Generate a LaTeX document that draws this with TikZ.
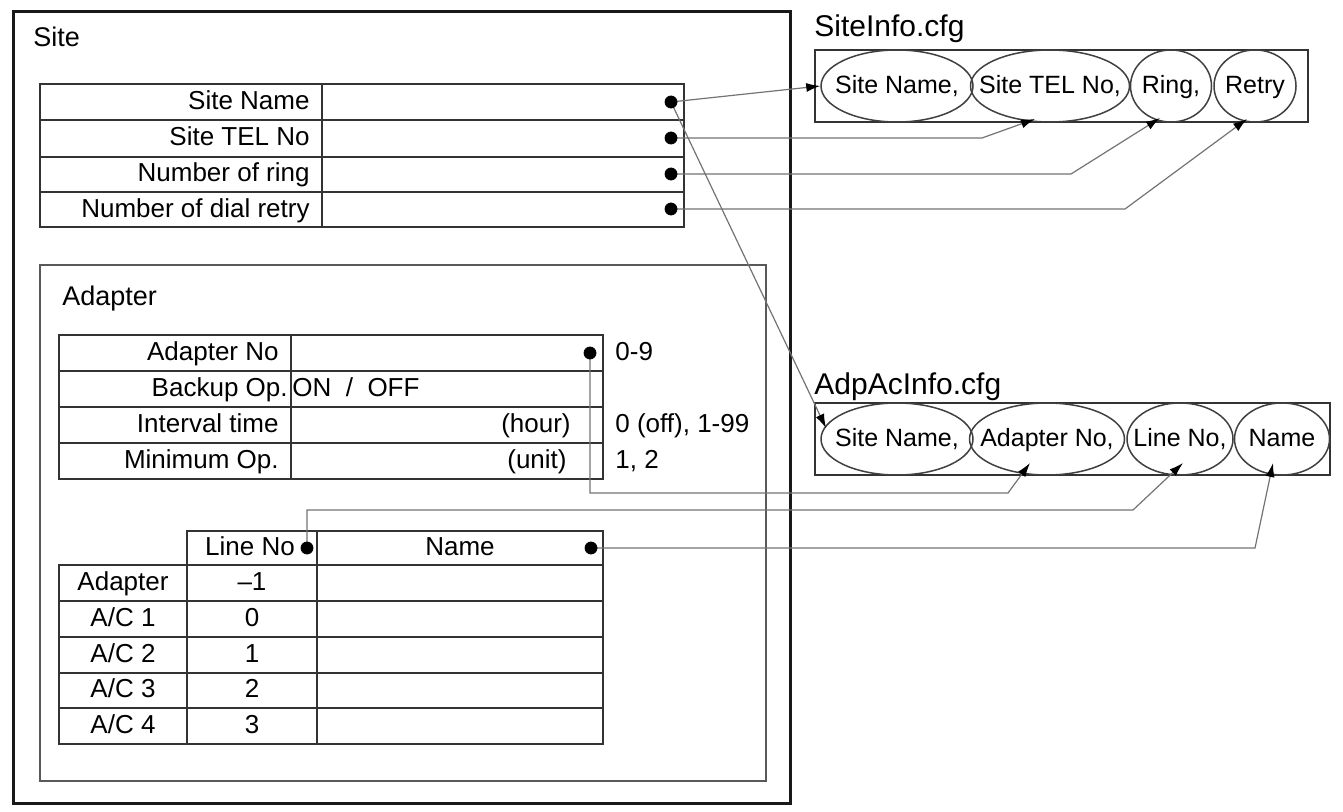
\documentclass[tikz,border=0pt]{standalone}
\usepackage{fontspec}
\setmainfont{Liberation Sans}
\usetikzlibrary{shapes.geometric,arrows.meta,calc}

\tikzset{
	frame/.style={draw=black!80, line width=0.8pt},
	oval/.style={ellipse, draw=black!75, line width=0.75pt, inner sep=0pt, minimum height=36pt,
		label={[inner sep=0pt, text height=1.6ex, text depth=0.2ex, font=\fontsize{12.5}{14}\selectfont]center:#1}},
	lbl/.style={inner sep=0pt, text height=1.6ex, text depth=0.2ex, font=\fontsize{13}{15}\selectfont},
	title/.style={inner sep=0pt, anchor=base west, font=\fontsize{15}{18}\selectfont},
	boxtitle/.style={inner sep=0pt, anchor=base west, font=\fontsize{13.5}{16}\selectfont},
	link/.style={draw=black!55, line width=0.6pt, -{Latex[length=7pt,width=4.5pt,color=black]}},
}

\begin{document}
\begin{tikzpicture}[x=0.5pt,y=-0.5pt]
				\useasboundingbox (0,0) rectangle (1343,812);

				\draw[line width=1.5pt, draw=black!90] (13,12) rectangle (790,803);
				\node[boxtitle] (site) at (33,47) {Site};

				\draw[frame] (40,84) rectangle (684,227);
				\foreach \y in {120,157,192}{
						\draw[frame] (40,\y) -- (684,\y);
					}
				\draw[frame] (322,84) -- (322,227);
				\node[lbl, anchor=east] (sitename) at (310,102) {Site Name};
				\node[lbl, anchor=east] (sitetel) at (310,138) {Site TEL No};
				\node[lbl, anchor=east] (ring) at (310,174) {Number of ring};
				\node[lbl, anchor=east] (retry) at (310,210) {Number of dial retry};

				\draw[line width=1pt, draw=black!65] (40,265) rectangle (766,781);
				\node[boxtitle] (adapter) at (62,306) {Adapter};

				\draw[frame] (59,335) rectangle (603,479);
				\foreach \y in {371,407,443}{
						\draw[frame] (59,\y) -- (603,\y);
					}
				\draw[frame] (291,335) -- (291,479);
				\node[lbl, anchor=east] (adpno) at (279,353) {Adapter No};
				\node[lbl, anchor=east] (backup) at (288,389) {Backup Op.};
				\node[lbl, anchor=west] (onoff) at (292,389) {ON\ \ /\ \ OFF};
				\node[lbl, anchor=east] (interval) at (279,425) {Interval time};
				\node[lbl, anchor=east] (hour) at (571,425) {(hour)};
				\node[lbl, anchor=east] (minop) at (279,461) {Minimum Op.};
				\node[lbl, anchor=east] (unit) at (567,461) {(unit)};
				\node[lbl, anchor=west] (rangeno) at (615,353) {0-9};
				\node[lbl, anchor=west] (rangeint) at (615,425) {0 (off), 1-99};
				\node[lbl, anchor=west] (rangemin) at (615,461) {1, 2};

				\draw[frame] (187,531) rectangle (603,565);
				\draw[frame] (59,565) rectangle (603,744);
				\foreach \y in {601,637,673,708}{
						\draw[frame] (59,\y) -- (603,\y);
					}
				\draw[frame] (187,565) -- (187,744);
				\draw[frame] (317,531) -- (317,744);
				\node[lbl] (hline) at (250,548) {Line No};
				\node[lbl] (hname) at (460,548) {Name};
				\foreach \r/\a/\n [count=\i] in {583/Adapter/–1, 619/A\slash C 1/0, 655/A\slash C 2/1, 690/A\slash C 3/2, 726/A\slash C 4/3}{
						\node[lbl] (row\i) at (123,\r) {\a};
						\node[lbl] (num\i) at (252,\r) {\n};
					}

				\node[title] (siteinfo) at (814,37) {SiteInfo.cfg};
				\draw[frame] (815,50) rectangle (1308,122);
				\node[oval={Site Name,}, minimum width=76pt] (sSN) at (897,86) {};
				\node[oval={Site TEL No,}, minimum width=79.5pt] (sTEL) at (1050,86) {};
				\node[oval={Ring,}, minimum width=40.5pt] (sRing) at (1171,86) {};
				\node[oval={Retry}, minimum width=41pt] (sRetry) at (1255,86) {};

				\node[title] (adpacinfo) at (814,394) {AdpAcInfo.cfg};
				\draw[frame] (815,403) rectangle (1330,475);
				\node[oval={Site Name,}, minimum width=76pt] (aSN) at (897,439) {};
				\node[oval={Adapter No,}, minimum width=77.5pt] (aAN) at (1047,439) {};
				\node[oval={Line No,}, minimum width=53pt] (aLN) at (1180,439) {};
				\node[oval={Name}, minimum width=47.5pt] (aNm) at (1282,439) {};

				\coordinate (d1) at (671,102);
				\coordinate (d2) at (671,138);
				\coordinate (d3) at (671,174);
				\coordinate (d4) at (671,209);
				\coordinate (da) at (590,353);
				\coordinate (dl) at (307,548);
				\coordinate (dn) at (591,548);

				\draw[link] (d1) -- (sSN.west);
				\draw[link] (d1) -- ($(aSN)+(-71,-11)$);
				\draw[link] (d2) -- (982,138) -- ($(sTEL)+(-15,33)$);
				\draw[link] (d3) -- (1071,174) -- ($(sRing)+(-11,32)$);
				\draw[link] (d4) -- (1125,209) -- ($(sRetry)+(-8,33)$);
				\draw[link] (da) -- (590,493) -- (1008,493) -- ($(aAN)+(-17,24)$);
				\draw[link] (dl) -- (307,510) -- (1133,510) -- ($(aLN)+(3,24)$);
				\draw[link] (dn) -- (1255,548) -- ($(aNm)+(-9,24)$);

				\foreach \d in {d1,d2,d3,d4,da,dl,dn}{
						\filldraw[black] (\d) circle (6);
					}
			\end{tikzpicture}
\end{document}
